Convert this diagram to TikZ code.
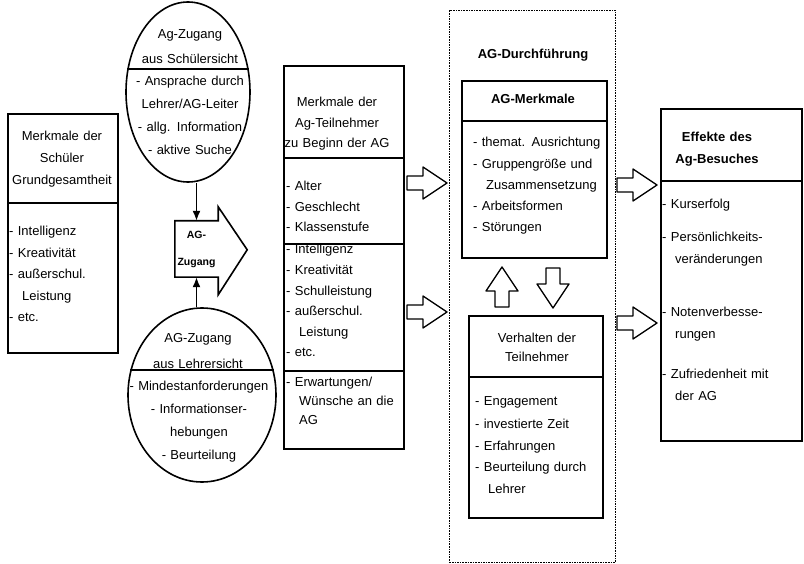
\documentclass[tikz,border=0pt]{standalone}
\usepackage{fontspec}
\setmainfont{Liberation Sans}
\usetikzlibrary{shapes.geometric,arrows.meta}
\newcommand{\einr}{\hspace*{1em}}
\tikzset{
  feld/.style={draw, line width=1.6pt, inner sep=0pt, anchor=north west},
  oval/.style={ellipse, draw, line width=1.6pt, inner sep=0pt},
  liste/.style={inner sep=0pt, anchor=base west, align=left, text width=150pt,
                font=\fontsize{13}{#1}\selectfont},
  kopf/.style={inner sep=0pt, anchor=base, align=center, text width=140pt,
               font=\fontsize{13}{#1}\selectfont},
  fett/.style={kopf=#1, font=\bfseries\fontsize{13}{#1}\selectfont},
  hohlpfeil/.pic={\draw[line width=1.3pt, line join=round]
      (0,-7) -- (16,-7) -- (16,-16) -- (40,0) -- (16,16) -- (16,7) -- (0,7) -- cycle;},
}
\begin{document}
\begin{tikzpicture}[x=1pt, y=-1pt]
  \useasboundingbox (0,0) rectangle (804,564);
  % Schueler Grundgesamtheit
  \node[feld, minimum width=110pt, minimum height=89pt] (grundkopf) at (7,113) {};
  \node[feld, minimum width=110pt, minimum height=150pt] (grundliste) at (7,202) {};
  \node[kopf=22, text width=108pt] (grundtitel) at (62,141) {Merkmale der\\Schüler\\Grundgesamtheit};
  \node[liste=21.5] (grundpunkte) at (9,236) {- Intelligenz\\- Kreativität\\- außerschul.\\\einr Leistung\\- etc.};

  % Zugang aus Schuelersicht
  \node[oval, minimum width=124pt, minimum height=180pt] (schueler) at (188,92) {};
  \draw[line width=1.6pt] (schueler.159) -- (schueler.21);
  \node[kopf=25] (schuelertitel) at (190,39) {Ag-Zugang\\aus Schülersicht};
  \node[kopf=22.7] (schuelerpunkte) at (190,86) {- Ansprache durch\\Lehrer/AG-Leiter\\- allg. Information\\- aktive Suche};

  % Zugang aus Lehrersicht
  \node[oval, minimum width=148pt, minimum height=174pt] (lehrer) at (202,395) {};
  \draw[line width=1.6pt] (lehrer.161) -- (lehrer.19);
  \node[kopf=26] (lehrertitel) at (198,342) {AG-Zugang\\aus Lehrersicht};
  \node[kopf=22.7] (lehrerpunkte) at (199,391) {- Mindestanforderungen\\- Informationser-\\hebungen\\- Beurteilung};

  % AG-Zugang
  \node[minimum width=43pt, minimum height=56pt, inner sep=0pt, align=center,
        font=\bfseries\fontsize{10.5}{27}\selectfont] (zugang) at (196.5,249) {AG-\\Zugang};
  \draw[line width=1.6pt] (zugang.north west) -- (zugang.north east) -- ++(0,-14)
      -- ++(29,43) -- ++(-29,45) -- (zugang.south east) -- (zugang.south west) -- cycle;
  \draw[line width=1.6pt, -{Latex[length=10pt, width=8pt]}] (zugang.north |- schueler.south) -- (zugang.north);
  \draw[line width=1.6pt, -{Latex[length=10pt, width=8pt]}] (zugang.south |- lehrer.north) -- (zugang.south);

  % Merkmale der Teilnehmer
  \node[feld, minimum width=120pt, minimum height=92pt] (teilkopf) at (283,65) {};
  \node[feld, minimum width=120pt, minimum height=86pt] (teilmerk) at (283,157) {};
  \node[feld, minimum width=120pt, minimum height=127pt] (teilleist) at (283,243) {};
  \node[feld, minimum width=120pt, minimum height=78pt] (teilwunsch) at (283,370) {};
  \node[kopf=20.5, text width=116pt] (teiltitel) at (337,107) {Merkmale der\\Ag-Teilnehmer\\zu Beginn der AG};
  \node[liste=20.5] (teilpunkte) at (286,191) {- Alter\\- Geschlecht\\- Klassenstufe};
  \node[liste=20.6] (leistpunkte) at (286,254) {- Intelligenz\\- Kreativität\\- Schulleistung\\- außerschul.\\\einr Leistung\\- etc.};
  \node[liste=19] (wunschpunkte) at (286,386) {- Erwartungen/\\\einr Wünsche an die\\\einr AG};

  \pic at (407,183) {hohlpfeil};
  \pic at (407,312) {hohlpfeil};

  % AG-Durchfuehrung
  \node[feld, densely dotted, line width=0.8pt, minimum width=166pt, minimum height=552pt] (durch) at (449,10) {};
  \node[fett=20] (durchtitel) at (533,59) {AG-Durchführung};
  \node[feld, minimum width=145pt, minimum height=40pt] (merkkopf) at (461,80) {};
  \node[feld, minimum width=145pt, minimum height=137pt] (merkliste) at (461,120) {};
  \node[fett=20] (merktitel) at (533,104) {AG-Merkmale};
  \node[liste=21.25] (merkpunkte) at (473,147) {- themat. Ausrichtung\\- Gruppengröße und\\\einr Zusammensetzung\\- Arbeitsformen\\- Störungen};

  \pic[rotate=90] at (502,307) {hohlpfeil};
  \pic[rotate=-90] at (553,268) {hohlpfeil};

  \node[feld, minimum width=134pt, minimum height=61pt] (verhkopf) at (468,315) {};
  \node[feld, minimum width=134pt, minimum height=141pt] (verhliste) at (468,376) {};
  \node[kopf=20] (verhtitel) at (537,342) {Verhalten der\\Teilnehmer};
  \node[liste=22] (verhpunkte) at (475,406) {- Engagement\\- investierte Zeit\\- Erfahrungen\\- Beurteilung durch\\\einr Lehrer};

  \pic at (617,185) {hohlpfeil};
  \pic at (617,323) {hohlpfeil};

  % Effekte
  \node[feld, minimum width=141pt, minimum height=72pt] (effkopf) at (660,108) {};
  \node[feld, minimum width=141pt, minimum height=260pt] (effliste) at (660,180) {};
  \node[fett=22] (efftitel) at (717,142) {Effekte des\\Ag-Besuches};
  \node[liste=22] (effpunkte) at (662,209) {- Kurserfolg\\[11pt]- Persönlichkeits-\\\einr veränderungen\\[31pt]- Notenverbesse-\\\einr rungen\\[18pt]- Zufriedenheit mit\\\einr der AG};
\end{tikzpicture}
\end{document}
